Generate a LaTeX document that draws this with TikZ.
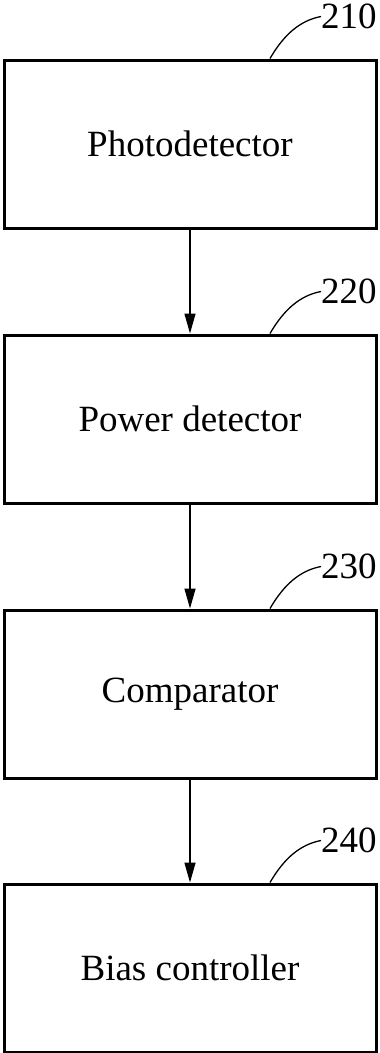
\documentclass[tikz,border=0pt]{standalone}
\usepackage{fontspec}
\setmainfont{Liberation Serif}
\usetikzlibrary{arrows.meta}
\begin{document}
\begin{tikzpicture}[x=1pt,y=1pt,
  blockbox/.style={draw=black, line width=3pt, minimum width=372pt, minimum height=168pt, inner sep=0pt, font=\fontsize{37}{40}\selectfont},
  reflabel/.style={anchor=west, inner sep=0pt, font=\fontsize{37}{40}\selectfont},
  flow/.style={line width=1.5pt, -{Triangle[length=20pt,width=11pt]}},
  leader/.style={line width=1.3pt}]
\useasboundingbox (0,0) rectangle (380,-1053);
\node[blockbox] (b1) at (190,-144) {Photodetector};
\node[blockbox] (b2) at (190,-419) {Power detector};
\node[blockbox] (b3) at (190,-694) {Comparator};
\node[blockbox] (b4) at (190,-968) {Bias controller};
\foreach \i/\t in {1/210,2/220,3/230,4/240}{
  \coordinate (s\i) at ([xshift=80pt]b\i.north);
  \node[reflabel] (l\i) at ([xshift=131pt,yshift=42pt]b\i.north) {\t};
  \draw[leader] (s\i) .. controls ([xshift=14pt,yshift=24pt]s\i) and ([xshift=30pt,yshift=38pt]s\i) .. (l\i.west);
}
\draw[flow] (b1.south) -- (b2.north);
\draw[flow] (b2.south) -- (b3.north);
\draw[flow] (b3.south) -- (b4.north);
\end{tikzpicture}
\end{document}
